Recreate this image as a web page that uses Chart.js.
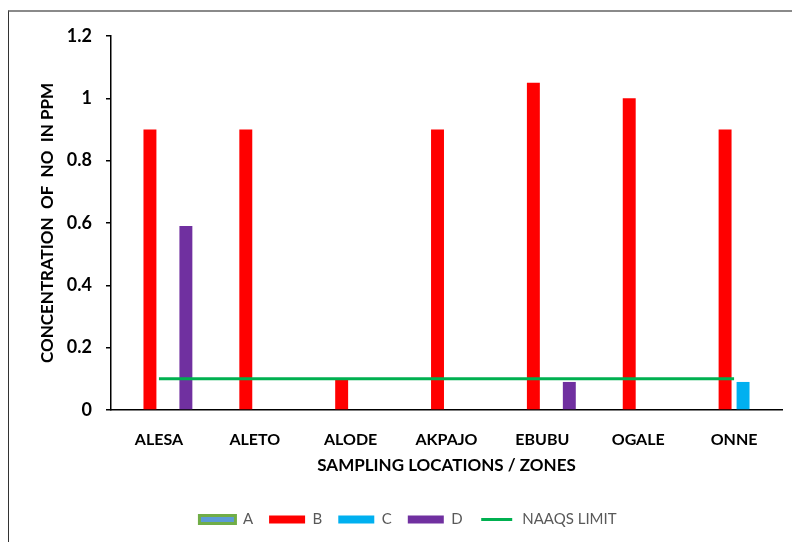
<!DOCTYPE html>
<html>
<head>
<meta charset="utf-8">
<script src="https://cdn.jsdelivr.net/npm/chart.js@4"></script>
<style>
  html, body { margin: 0; padding: 0; background: #fff; }
  #wrap { position: relative; width: 792px; height: 542px; overflow: hidden; }
  #frame { position: absolute; left: 8px; top: 10px; width: 820px; height: 560px;
           border-left: 1px solid #333; border-top: 2px solid #8a8a8a; }
  canvas { position: absolute; left: 0; top: 0; }
</style>
</head>
<body>
<div id="wrap">
  <div id="frame"></div>
  <canvas id="chart" width="792" height="542"></canvas>
</div>
<script>
// Sampling zones along the x axis
const locations = ['ALESA', 'ALETO', 'ALODE', 'AKPAJO', 'EBUBU', 'OGALE', 'ONNE'];

// NO concentration (ppm) per zone for each series
const seriesA = [0, 0, 0, 0, 0, 0, 0];
const seriesB = [0.9, 0.9, 0.1, 0.9, 1.05, 1.0, 0.9];
const seriesC = [0, 0, 0, 0, 0, 0, 0.09];
const seriesD = [0.59, 0, 0, 0, 0.09, 0, 0];

// NAAQS limit for NO (ppm)
const naaqsLimit = [0.1, 0.1, 0.1, 0.1, 0.1, 0.1, 0.1];

// Value-axis tick labels
const yTickLabels = ['0', '0.2', '0.4', '0.6', '0.8', '1', '1.2'];

const colA = '#5B9BD5', colABorder = '#70AD47';
const colB = '#FF0000', colC = '#00B0F0', colD = '#7030A0', colLine = '#00B050';

const barCommon = { type: 'bar', order: 1, categoryPercentage: 0.75, barPercentage: 0.72, borderWidth: 0 };

// Nudge the legend row sideways without touching the plot area
const legendShift = {
  id: 'legendShift',
  afterLayout(chart) {
    const lg = chart.legend;
    if (lg) { lg.left += 17; lg.right += 17; }
  }
};

new Chart(document.getElementById('chart'), {
  data: {
    labels: locations,
    datasets: [
      Object.assign({ label: 'A', data: seriesA, backgroundColor: colA }, barCommon),
      Object.assign({ label: 'B', data: seriesB, backgroundColor: colB }, barCommon),
      Object.assign({ label: 'C', data: seriesC, backgroundColor: colC }, barCommon),
      Object.assign({ label: 'D', data: seriesD, backgroundColor: colD }, barCommon),
      { type: 'line', label: 'NAAQS LIMIT', data: naaqsLimit, order: 0,
        borderColor: colLine, backgroundColor: colLine, borderWidth: 3,
        pointRadius: 0, pointHoverRadius: 0, fill: false, tension: 0 }
    ]
  },
  plugins: [legendShift],
  options: {
    responsive: false,
    animation: false,
    devicePixelRatio: 1,
    layout: { padding: { left: 0, top: 36, right: 10, bottom: 5 } },
    plugins: {
      tooltip: { enabled: false },
      legend: {
        position: 'bottom',
        labels: {
          boxWidth: 36,
          boxHeight: 8,
          padding: 16,
          color: '#595959',
          font: { family: 'Lato', size: 15 },
          generateLabels(chart) {
            return chart.data.datasets.map((ds, i) => {
              const isLine = ds.type === 'line';
              const isA = ds.label === 'A';
              return {
                text: ds.label,
                datasetIndex: i,
                fillStyle: isLine ? colLine : ds.backgroundColor,
                strokeStyle: isLine ? '#ffffff' : (isA ? colABorder : ds.backgroundColor),
                lineWidth: isLine ? 5 : (isA ? 3 : 0),
                fontColor: '#595959',
                hidden: false
              };
            });
          }
        }
      }
    },
    scales: {
      x: {
        grid: { display: false, drawTicks: false },
        border: { display: true, color: '#000', width: 1.5 },
        ticks: { color: '#000', padding: 20, font: { family: 'Lato', size: 16, weight: 'bold' } },
        title: {
          display: true,
          text: 'SAMPLING LOCATIONS / ZONES',
          color: '#000',
          font: { family: 'Lato', size: 17, weight: 'bold' },
          padding: { top: 0, bottom: 20 }
        },
        afterFit(scale) { scale.height = 86; }
      },
      y: {
        min: 0,
        max: 1.2,
        grid: { drawOnChartArea: false, drawTicks: true, tickLength: 5, color: '#000', lineWidth: 1.5 },
        border: { display: true, color: '#000', width: 1.5 },
        ticks: {
          stepSize: 0.2,
          padding: 14,
          color: '#000',
          font: { family: 'Lato', size: 18, weight: 'bold' },
          callback: (v, i) => yTickLabels[i]
        },
        title: {
          display: true,
          text: 'CONCENTRATION  OF  NO  IN PPM',
          color: '#000',
          font: { family: 'Lato', size: 17, weight: 'bold' },
          padding: { top: 37, bottom: 0 }
        },
        afterFit(scale) { scale.width = 111; }
      }
    }
  }
});
</script>
</body>
</html>
